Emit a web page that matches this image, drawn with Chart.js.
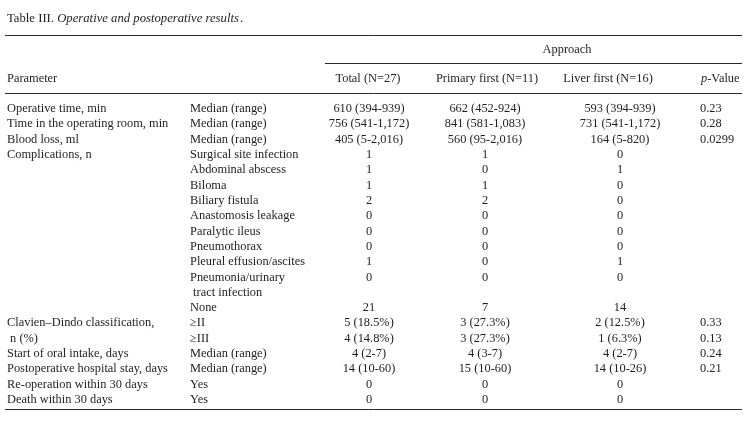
<!DOCTYPE html>
<html>
<head>
<meta charset="utf-8">
<script src="https://cdn.jsdelivr.net/npm/chart.js@4.4.1/dist/chart.umd.min.js"></script>
<style>
  html, body { margin: 0; padding: 0; background: #fff; }
  #table-chart { display: block; }
</style>
</head>
<body>
<canvas id="table-chart" width="754" height="424"></canvas>
<script>
// ---- table data (one entry per printed row) ----
const paramLabels = [
  'Operative time, min', 'Time in the operating room, min', 'Blood loss, ml', 'Complications, n',
  '', '', '', '', '', '', '', '', '', '',
  'Clavien\u2013Dindo classification,', ' n (%)',
  'Start of oral intake, days', 'Postoperative hospital stay, days',
  'Re-operation within 30 days', 'Death within 30 days'
];
const subLabels = [
  'Median (range)', 'Median (range)', 'Median (range)', 'Surgical site infection',
  'Abdominal abscess', 'Biloma', 'Biliary fistula', 'Anastomosis leakage', 'Paralytic ileus',
  'Pneumothorax', 'Pleural effusion/ascites', 'Pneumonia/urinary', ' tract infection', 'None',
  '\u2265II', '\u2265III', 'Median (range)', 'Median (range)', 'Yes', 'Yes'
];
const totalValues = [
  '610 (394-939)', '756 (541-1,172)', '405 (5-2,016)', '1', '1', '1', '2', '0', '0', '0', '1', '0', '',
  '21', '5 (18.5%)', '4 (14.8%)', '4 (2-7)', '14 (10-60)', '0', '0'
];
const primaryValues = [
  '662 (452-924)', '841 (581-1,083)', '560 (95-2,016)', '1', '0', '1', '2', '0', '0', '0', '0', '0', '',
  '7', '3 (27.3%)', '3 (27.3%)', '4 (3-7)', '15 (10-60)', '0', '0'
];
const liverValues = [
  '593 (394-939)', '731 (541-1,172)', '164 (5-820)', '0', '1', '0', '0', '0', '0', '0', '1', '0', '',
  '14', '2 (12.5%)', '1 (6.3%)', '4 (2-7)', '14 (10-26)', '0', '0'
];
const pValues = [
  '0.23', '0.28', '0.0299', '', '', '', '', '', '', '', '', '', '',
  '', '0.33', '0.13', '0.24', '0.21', '', ''
];
const columnHeaders = ['Parameter', 'Total (N=27)', 'Primary first (N=11)', 'Liver first (N=16)'];
const groupHeader = 'Approach';

// ---- layout / style ----
const FONT = '"Liberation Serif", "DejaVu Serif", serif';
const SIZE = '12.4px ';
const TITLE_SIZE = '12.7px ';
const TEXT_COLOR = '#1e1e1e';
const LINE_COLOR = '#2a2a2a';
const COL = { param: 7, sub: 190, total: 369, primary: 485, liver: 620, p: 700 };
const HEAD_COL = { total: 368, primary: 487, liver: 608, p: 701 };

const tablePlugin = {
  id: 'tableText',
  afterDraw(chart) {
    const ctx = chart.ctx;
    const yScale = chart.scales.y;
    ctx.save();
    ctx.fillStyle = TEXT_COLOR;
    ctx.textBaseline = 'middle';

    // title
    ctx.font = TITLE_SIZE + FONT;
    ctx.textAlign = 'left';
    ctx.fillText('Table III. ', 7, 19);
    let x = 7 + ctx.measureText('Table III. ').width;
    ctx.font = 'italic ' + TITLE_SIZE + FONT;
    ctx.fillText('Operative and postoperative results', x, 19);
    x += ctx.measureText('Operative and postoperative results').width;
    ctx.font = TITLE_SIZE + FONT;
    ctx.fillText('.', x + 1, 19);

    // rules
    ctx.strokeStyle = LINE_COLOR;
    ctx.lineWidth = 1;
    const rule = (x0, x1, y) => {
      ctx.beginPath();
      ctx.moveTo(x0, y + 0.5);
      ctx.lineTo(x1, y + 0.5);
      ctx.stroke();
    };
    rule(5, 742, 35);
    rule(325, 742, 63);
    rule(5, 742, 93);
    rule(5, 742, 409);

    // header
    ctx.font = SIZE + FONT;
    ctx.textAlign = 'center';
    ctx.fillText(groupHeader, 567, 50);
    ctx.textAlign = 'left';
    ctx.fillText(columnHeaders[0], COL.param, 79);
    ctx.textAlign = 'center';
    ctx.fillText(columnHeaders[1], HEAD_COL.total, 79);
    ctx.fillText(columnHeaders[2], HEAD_COL.primary, 79);
    ctx.fillText(columnHeaders[3], HEAD_COL.liver, 79);
    ctx.textAlign = 'left';
    ctx.font = 'italic ' + SIZE + FONT;
    ctx.fillText('p', HEAD_COL.p, 79);
    const pw = ctx.measureText('p').width;
    ctx.font = SIZE + FONT;
    ctx.fillText('-Value', HEAD_COL.p + pw, 79);

    // body rows, placed through the y scale
    paramLabels.forEach((label, i) => {
      const y = yScale.getPixelForValue(i);
      ctx.textAlign = 'left';
      ctx.fillText(label, COL.param, y);
      ctx.fillText(subLabels[i], COL.sub, y);
      ctx.fillText(pValues[i], COL.p, y);
      ctx.textAlign = 'center';
      ctx.fillText(totalValues[i], COL.total, y);
      ctx.fillText(primaryValues[i], COL.primary, y);
      ctx.fillText(liverValues[i], COL.liver, y);
    });
    ctx.restore();
  }
};

new Chart(document.getElementById('table-chart'), {
  type: 'scatter',
  data: { datasets: [{ data: [], pointRadius: 0 }] },
  options: {
    responsive: false,
    animation: false,
    layout: { padding: 0 },
    plugins: { legend: { display: false }, tooltip: { enabled: false } },
    scales: {
      x: { display: false, min: 0, max: 1 },
      y: { display: false, reverse: true, min: -7.1, max: 20.58 }
    }
  },
  plugins: [tablePlugin]
});
</script>
</body>
</html>
